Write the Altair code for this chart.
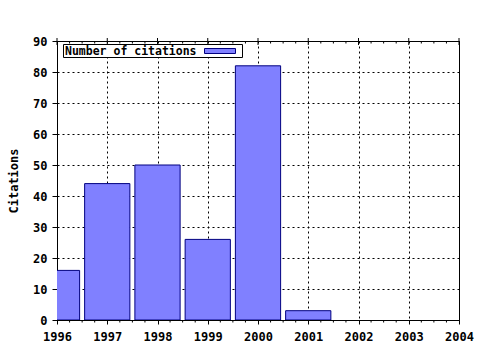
import altair as alt
import pandas as pd

# ---- data ----
years = [1996, 1997, 1998, 1999, 2000, 2001, 2002, 2003]
citations = [16, 44, 50, 26, 82, 3, 0, 0]
x_ticks = [1996, 1997, 1998, 1999, 2000, 2001, 2002, 2003, 2004]
y_ticks = [0, 10, 20, 30, 40, 50, 60, 70, 80, 90]
minor_x = [1996 + 0.25 * k for k in range(33) if k % 4 != 0]
legend_label = "Number of citations"
y_title = "Citations"

FONT = "DejaVu Sans Mono"
FILL = "#8080ff"
EDGE = "#000080"

df = pd.DataFrame({"year": years, "citations": citations})
xscale = alt.Scale(domain=[1996, 2004], nice=False, zero=False, padding=0)
yscale = alt.Scale(domain=[0, 90], nice=False, padding=0)

x_axis = alt.Axis(
    values=x_ticks, format="d", title=None, tickSize=4, tickColor="black",
    domainColor="black", labelFont=FONT, labelFontWeight="bold", labelFontSize=12,
    labelColor="black", labelPadding=7, labelFlush=False, labelBound=False,
    labelOverlap=False, grid=True, gridColor="black", gridDash=[2, 3], gridOpacity=1,
    zindex=0,
)
y_axis = alt.Axis(
    values=y_ticks, title=y_title, tickSize=5, tickColor="black", domainColor="black",
    labelFont=FONT, labelFontWeight="bold", labelFontSize=12, labelColor="black",
    labelPadding=5, grid=True, gridColor="black", gridDash=[2, 3], gridOpacity=1,
    titleFont=FONT, titleFontWeight="bold", titleFontSize=12, titleColor="black",
    titleX=-44, titleY=139.5, titleAngle=270, titleAlign="center", titleBaseline="middle",
    zindex=0,
)

bars = (
    alt.Chart(df)
    .transform_filter("datum.citations > 0")
    .transform_calculate(x0="datum.year - 0.45", x1="datum.year + 0.45")
    .mark_bar(fill=FILL, stroke=EDGE, strokeWidth=1, clip=True)
    .encode(
        x=alt.X("x0:Q", scale=xscale, axis=x_axis),
        x2="x1:Q",
        y=alt.Y("citations:Q", scale=yscale, axis=y_axis),
        y2=alt.datum(0),
    )
)

minor_df = pd.DataFrame({"t": minor_x})
major_df = pd.DataFrame({"t": x_ticks})

bottom_minor = alt.Chart(minor_df).mark_rule(color="black", strokeWidth=1).encode(
    x=alt.X("t:Q", scale=xscale, axis=x_axis), y=alt.value(279), y2=alt.value(281.5)
)
top_minor = alt.Chart(minor_df).mark_rule(color="black", strokeWidth=1).encode(
    x=alt.X("t:Q", scale=xscale, axis=x_axis), y=alt.value(0), y2=alt.value(2.5)
)
top_major = alt.Chart(major_df).mark_rule(color="black", strokeWidth=1).encode(
    x=alt.X("t:Q", scale=xscale, axis=x_axis), y=alt.value(-3), y2=alt.value(4)
)

leg_data = alt.Data(values=[{"label": legend_label}])
leg_box = alt.Chart(leg_data).mark_rect(fill="white", stroke="black", strokeWidth=1).encode(
    x=alt.value(6.5), x2=alt.value(185.5), y=alt.value(3.5), y2=alt.value(16.5)
)
leg_text = alt.Chart(leg_data).mark_text(
    font=FONT, fontWeight="bold", fontSize=11.5, color="black", align="left", baseline="middle"
).encode(x=alt.value(8), y=alt.value(10.5), text="label:N")
leg_swatch = alt.Chart(leg_data).mark_rect(fill=FILL, stroke=EDGE, strokeWidth=1).encode(
    x=alt.value(147.5), x2=alt.value(178.5), y=alt.value(7.5), y2=alt.value(12.5)
)

chart = (
    alt.layer(bars, bottom_minor, top_minor, top_major, leg_box, leg_text, leg_swatch)
    .properties(
        width=402, height=279,
        autosize=alt.AutoSizeParams(type="none"),
        padding={"left": 57, "top": 41, "right": 21, "bottom": 30},
        background="white",
    )
    .configure_view(stroke="black", strokeWidth=1)
)

chart.save("out.html", embed_options={"renderer": "svg", "actions": False})
